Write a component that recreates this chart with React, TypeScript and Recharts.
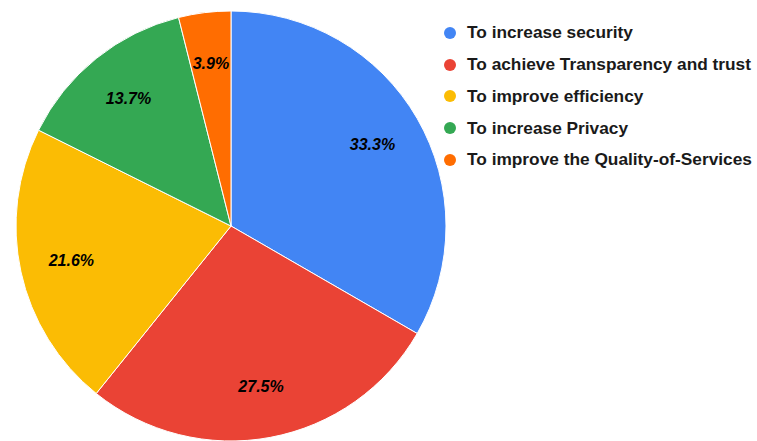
import { PieChart, Pie, Cell, Legend } from "recharts";

const reasons = [
  "To increase security",
  "To achieve Transparency and trust",
  "To improve efficiency",
  "To increase Privacy",
  "To improve the Quality-of-Services",
];
const counts = [17, 14, 11, 7, 2];
const colors = ["#4285f4", "#ea4335", "#fbbc04", "#34a853", "#ff6d01"];

const data = reasons.map((name, i) => ({ name, value: counts[i] }));
const total = counts.reduce((a, b) => a + b, 0);

const RAD = Math.PI / 180;

function renderLabel(props: any) {
  const { cx, cy, midAngle, outerRadius, value } = props;
  const r = outerRadius * 0.76;
  const x = cx + r * Math.cos(-midAngle * RAD);
  const y = cy + r * Math.sin(-midAngle * RAD);
  return (
    <text
      x={x}
      y={y}
      textAnchor="middle"
      dominantBaseline="central"
      fill="#000"
      fontSize={16}
      fontWeight="bold"
      fontStyle="italic"
      fontFamily="Liberation Sans, Arial, sans-serif"
    >
      {((value / total) * 100).toFixed(1)}%
    </text>
  );
}

function renderLegend() {
  return (
    <div style={{ fontFamily: "Liberation Sans, Arial, sans-serif" }}>
      {reasons.map((name, i) => (
        <div key={name} style={{ display: "flex", alignItems: "center", height: 31.75 }}>
          <svg width={12} height={12} style={{ marginRight: 11 }}>
            <circle cx={6} cy={6} r={6} fill={colors[i]} />
          </svg>
          <span style={{ fontSize: 17.3, fontWeight: "bold", color: "#1a1a1a" }}>{name}</span>
        </div>
      ))}
    </div>
  );
}

export default function App() {
  return (
    <div style={{ position: "absolute", left: 0, top: 0, width: 757, height: 441, background: "#fff" }}>
      <PieChart width={757} height={441} margin={{ top: 0, right: 0, bottom: 0, left: 0 }}>
        <Pie
          data={data}
          dataKey="value"
          nameKey="name"
          cx={231}
          cy={226}
          outerRadius={215}
          startAngle={90}
          endAngle={-270}
          stroke="#fff"
          strokeWidth={1}
          label={renderLabel}
          labelLine={false}
          isAnimationActive={false}
        >
          {data.map((d, i) => (
            <Cell key={d.name} fill={colors[i]} />
          ))}
        </Pie>
        <Legend
          content={renderLegend}
          wrapperStyle={{ position: "absolute", left: 444, top: 17, width: 313 }}
        />
      </PieChart>
    </div>
  );
}
